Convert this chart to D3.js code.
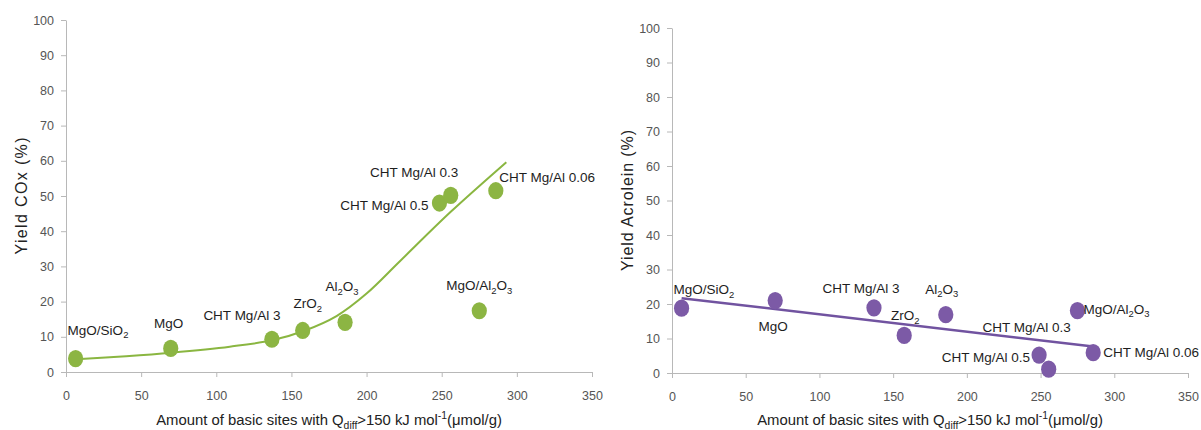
<!DOCTYPE html>
<html><head><meta charset="utf-8">
<script src="https://cdn.jsdelivr.net/npm/d3@7"></script>
<style>body{margin:0;background:#fff;} svg{display:block;font-family:"Liberation Sans",Arial,sans-serif;}</style>
</head><body><svg id="c" width="1201" height="430"></svg>
<script>
// ---------- data ----------
const catalysts = ["MgO/SiO_2","MgO","CHT Mg/Al 3","ZrO_2","Al_2O_3","CHT Mg/Al 0.5","CHT Mg/Al 0.3","CHT Mg/Al 0.06","MgO/Al_2O_3"];
const basicSitesCOx = [6.4, 69.7, 137, 157.5, 185.7, 248.5, 256, 286, 275];
const yieldCOx      = [3.8, 6.7, 9.3, 11.8, 14.1, 48.0, 50.2, 51.5, 17.4];
const basicSitesAcr = [6.5, 70, 137, 157.5, 185.7, 249, 255.5, 285.7, 275];
const yieldAcrolein = [18.8, 21.0, 18.9, 10.9, 16.9, 5.2, 1.1, 5.9, 18.1];
// trend curve of the COx panel
const cOxTrendX = [7, 40, 70, 109, 137, 159, 180, 200, 222, 256, 293];
const cOxTrendY = [3.6, 4.5, 5.5, 7.2, 9.0, 11.8, 15.9, 22.3, 31.4, 45.5, 59.6];
const xTicks = [0, 50, 100, 150, 200, 250, 300, 350];
const yTicks = [0, 10, 20, 30, 40, 50, 60, 70, 80, 90, 100];
const xTitle = "Amount of basic sites with Q_{diff}>150 kJ mol^{-1}(μmol/g)";
const yTitleCOx = "Yield COx (%)";
const yTitleAcr = "Yield Acrolein (%)";

// ---------- layout ----------
const svg = d3.select("#c");
const LABEL_SIZE = 13.5;
function rich(t, str, size){
  const tokens = str.match(/_\{[^}]*\}|\^\{[^}]*\}|_\w|\^\w|[^_^]+/g);
  let shift = 0;
  tokens.forEach(tok => {
    let txt = tok, s = 0, fs = size;
    if (tok[0] === '_' || tok[0] === '^') {
      const sub = tok[0] === '_';
      txt = tok[1] === '{' ? tok.slice(2, -1) : tok.slice(1);
      s = sub ? 0.28 * size : -0.38 * size;
      fs = size * 0.7;
    }
    t.append("tspan").attr("dy", s - shift).attr("font-size", fs).text(txt);
    shift = s;
  });
}

function panel(cfg){
  const x = d3.scaleLinear().domain([0, 350]).range(cfg.xr);
  const y = d3.scaleLinear().domain([0, 100]).range(cfg.yr);
  const g = svg.append("g");
  const ax = g.append("g").attr("transform", `translate(0,${cfg.yr[0]})`)
    .call(d3.axisBottom(x).tickValues(xTicks).tickSize(5).tickSizeOuter(0).tickPadding(14));
  const ay = g.append("g").attr("transform", `translate(${cfg.xr[0]},0)`)
    .call(d3.axisLeft(y).tickValues(yTicks).tickSize(5).tickSizeOuter(0).tickPadding(7));
  [ax, ay].forEach(a => {
    a.selectAll("path,line").attr("stroke", "#b8b8b8");
    a.selectAll("text").attr("fill", "#555").attr("font-size", 12.5)
      .attr("font-family", '"Liberation Sans",Arial,sans-serif');
  });
  // trend
  g.append("path").datum(cfg.trend).attr("fill", "none").attr("stroke", cfg.lineColor)
    .attr("stroke-width", cfg.lineWidth)
    .attr("d", d3.line().x(d => x(d[0])).y(d => y(d[1])).curve(cfg.curve));
  // dots
  const pts = catalysts.map((n, i) => ({n, x: cfg.xs[i], y: cfg.ys[i], lab: cfg.labels[i]}));
  g.selectAll("ellipse").data(pts).join("ellipse")
    .attr("cx", d => x(d.x)).attr("cy", d => y(d.y)).attr("rx", 7.6).attr("ry", 8.6)
    .attr("fill", cfg.dotColor);
  pts.forEach(d => {
    const t = g.append("text").attr("x", x(d.x) + d.lab[0]).attr("y", y(d.y) + d.lab[1])
      .attr("text-anchor", d.lab[2]).attr("fill", "#1e1e1e").attr("font-size", LABEL_SIZE);
    rich(t, d.n, LABEL_SIZE);
  });
  // x title
  const xt = g.append("text").attr("x", (cfg.xr[0] + cfg.xr[1]) / 2).attr("y", 425)
    .attr("text-anchor", "middle").attr("fill", "#222");
  rich(xt, xTitle, 15);
  const w = xt.node().getBBox().width;
  const k = 346 / w;
  xt.selectAll("tspan").attr("font-size", function(){ return +d3.select(this).attr("font-size") * k; })
    .attr("dy", function(){ return +d3.select(this).attr("dy") * k; });
  // y title
  const cy = (cfg.yr[0] + cfg.yr[1]) / 2;
  g.append("text").attr("transform", `translate(${cfg.ytx},${cy}) rotate(-90)`)
    .attr("text-anchor", "middle").attr("fill", "#222").attr("font-size", 16)
    .attr("textLength", cfg.ytLen).attr("lengthAdjust", "spacing").text(cfg.yTitle);
}

const trendCOx = cOxTrendX.map((v, i) => [v, cOxTrendY[i]]);
// linear regression trend for acrolein
const mx = d3.mean(basicSitesAcr), my = d3.mean(yieldAcrolein);
const slope = d3.sum(basicSitesAcr, (v, i) => (v - mx) * (yieldAcrolein[i] - my)) /
              d3.sum(basicSitesAcr, v => (v - mx) * (v - mx));
const icpt = my - slope * mx;
const xe = d3.extent(basicSitesAcr);
const trendAcr = xe.map(v => [v, icpt + slope * v]);

panel({
  xr: [66, 592], yr: [372, 20], xs: basicSitesCOx, ys: yieldCOx, trend: trendCOx,
  curve: d3.curveCatmullRom, lineColor: "#8ab641", lineWidth: 2, dotColor: "#8cb543",
  yTitle: yTitleCOx, ytx: 27, ytLen: 117,
  labels: [[-8,-24,"start"],[-2,-20,"middle"],[-30,-19,"middle"],[5,-22,"middle"],[-3,-31,"middle"],
           [-11,7,"end"],[7.5,-18,"end"],[3.5,-9,"start"],[0,-21,"middle"]]
});
panel({
  xr: [672, 1188], yr: [373, 28], xs: basicSitesAcr, ys: yieldAcrolein, trend: trendAcr,
  curve: d3.curveLinear, lineColor: "#7153a0", lineWidth: 2.5, dotColor: "#7c5aa6",
  yTitle: yTitleAcr, ytx: 633, ytLen: 141,
  labels: [[-8,-14,"start"],[-2,30,"middle"],[-13,-15,"middle"],[1,-15,"middle"],[-4,-21,"middle"],
           [-9,7,"end"],[22,-37,"end"],[10,4,"start"],[6,3,"start"]]
});
</script></body></html>
